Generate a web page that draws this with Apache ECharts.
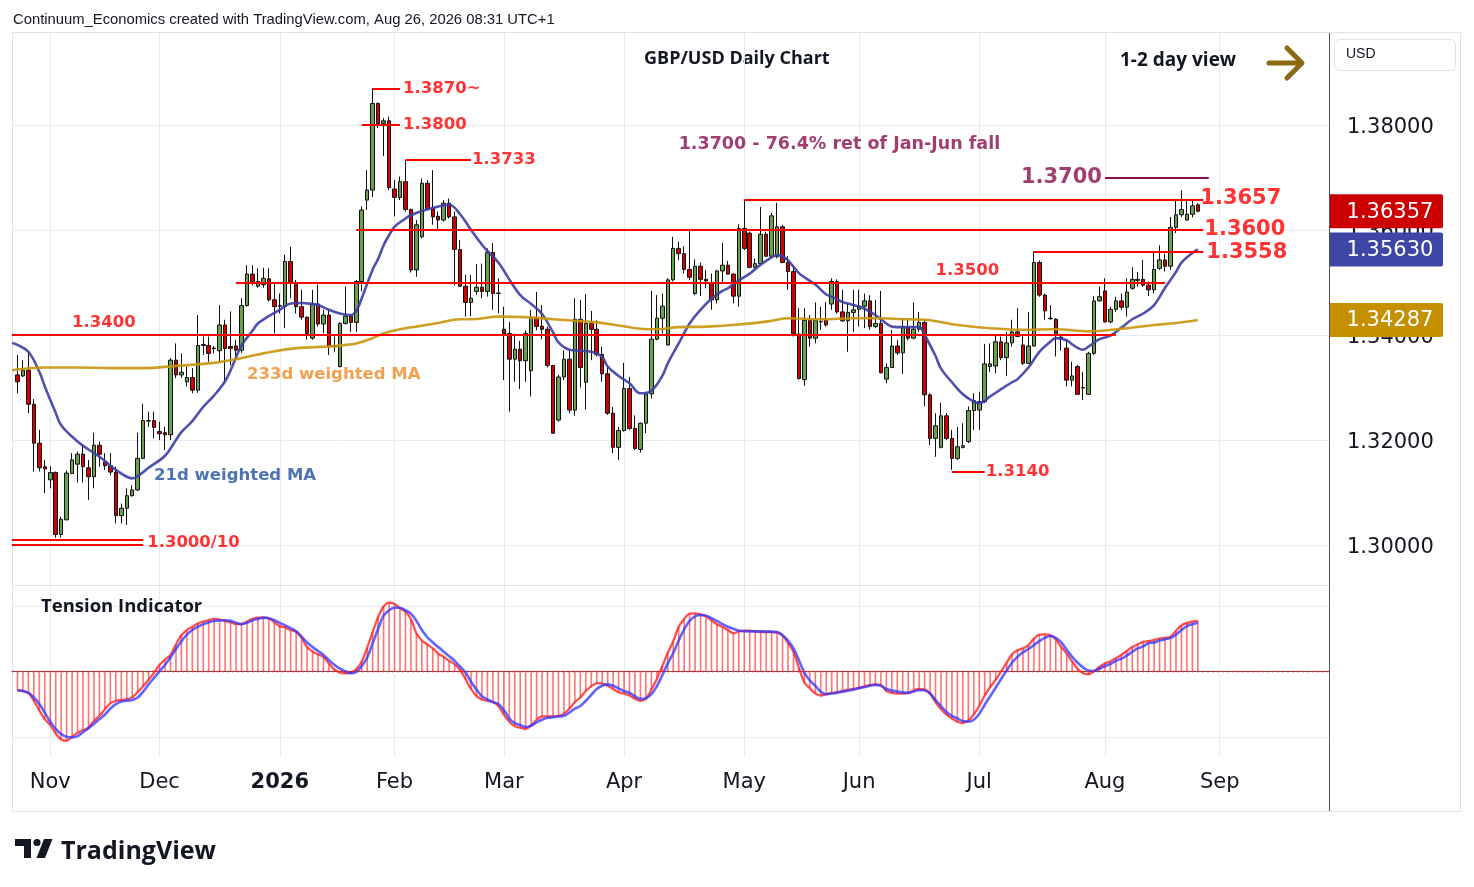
<!DOCTYPE html>
<html><head><meta charset="utf-8">
<script src="https://cdn.jsdelivr.net/npm/echarts@6/dist/echarts.min.js"></script>
<style>html,body{margin:0;padding:0;background:#fff}#c{width:1474px;height:887px}</style>
</head><body><div id="c"></div>
<script>
// ---------------- DATA ----------------
const holidays = ['2025-12-25', '2026-01-01'];
const monthLabels = {'01':'2026','02':'Feb','03':'Mar','04':'Apr','05':'May','06':'Jun','07':'Jul','08':'Aug','09':'Sep','10':'Oct','11':'Nov','12':'Dec'};
const priceTicks = [1.30, 1.32, 1.34, 1.36, 1.38];
// daily GBP/USD candles [open, high, low, close], first bar 2025-10-24, last 2026-08-26
const candles = [
[1.3324,1.3362,1.3289,1.3311],[1.3322,1.3352,1.3320,1.3333],[1.3333,1.3368,1.3251,1.3268],[1.3268,1.3278,1.3140,1.3194],[1.3194,1.3219,1.3140,1.3147],[1.3149,1.3162,1.3099,1.3145],
[1.3124,1.3150,1.3108,1.3138],[1.3138,1.3140,1.3014,1.3020],[1.3020,1.3054,1.3014,1.3049],[1.3048,1.3142,1.3047,1.3137],[1.3136,1.3175,1.3135,1.3162],
[1.3154,1.3178,1.3119,1.3173],[1.3173,1.3190,1.3119,1.3149],[1.3147,1.3162,1.3086,1.3130],[1.3130,1.3214,1.3108,1.3190],[1.3190,1.3197,1.3149,1.3173],
[1.3158,1.3175,1.3143,1.3151],[1.3151,1.3175,1.3133,1.3139],[1.3139,1.3149,1.3041,1.3056],[1.3056,1.3079,1.3041,1.3070],[1.3070,1.3108,1.3038,1.3094],
[1.3094,1.3114,1.3092,1.3105],[1.3105,1.3214,1.3103,1.3165],[1.3165,1.3269,1.3164,1.3237],[1.3237,1.3254,1.3225,1.3236],[1.3237,1.3254,1.3203,1.3224],
[1.3216,1.3235,1.3200,1.3212],[1.3214,1.3225,1.3181,1.3210],[1.3210,1.3356,1.3200,1.3352],[1.3352,1.3384,1.3318,1.3324],[1.3324,1.3365,1.3318,1.3329],
[1.3311,1.3340,1.3302,1.3319],[1.3319,1.3337,1.3289,1.3295],[1.3295,1.3438,1.3290,1.3380],[1.3380,1.3397,1.3362,1.3382],[1.3380,1.3397,1.3349,1.3365],
[1.3374,1.3379,1.3365,1.3375],[1.3370,1.3457,1.3349,1.3419],[1.3419,1.3429,1.3311,1.3374],[1.3378,1.3445,1.3342,1.3374],[1.3379,1.3391,1.3358,1.3371],
[1.3371,1.3470,1.3366,1.3456],[1.3456,1.3533,1.3454,1.3516],[1.3516,1.3533,1.3495,1.3500],[1.3493,1.3527,1.3490,1.3502],[1.3496,1.3528,1.3490,1.3508],
[1.3507,1.3527,1.3464,1.3467],[1.3467,1.3497,1.3403,1.3454],[1.3456,1.3479,1.3441,1.3455],[1.3454,1.3553,1.3413,1.3540],[1.3540,1.3568,1.3470,1.3500],
[1.3500,1.3505,1.3441,1.3454],[1.3454,1.3486,1.3429,1.3434],[1.3434,1.3435,1.3391,1.3403],[1.3394,1.3486,1.3391,1.3459],[1.3459,1.3496,1.3416,1.3421],
[1.3421,1.3448,1.3403,1.3438],[1.3438,1.3448,1.3362,1.3378],[1.3380,1.3397,1.3368,1.3378],[1.3340,1.3424,1.3338,1.3422],[1.3422,1.3492,1.3420,1.3436],
[1.3436,1.3438,1.3406,1.3424],[1.3424,1.3505,1.3406,1.3502],[1.3502,1.3645,1.3483,1.3638],[1.3657,1.3714,1.3638,1.3676],[1.3676,1.3870,1.3663,1.3841],
[1.3841,1.3843,1.3794,1.3803],[1.3803,1.3813,1.3741,1.3808],[1.3808,1.3816,1.3676,1.3681],[1.3678,1.3695,1.3626,1.3662],[1.3662,1.3702,1.3657,1.3692],
[1.3692,1.3733,1.3635,1.3639],[1.3639,1.3641,1.3519,1.3524],[1.3524,1.3619,1.3511,1.3610],[1.3587,1.3698,1.3584,1.3689],[1.3689,1.3695,1.3638,1.3641],
[1.3641,1.3714,1.3610,1.3625],[1.3626,1.3635,1.3600,1.3619],[1.3619,1.3657,1.3616,1.3651],[1.3651,1.3660,1.3622,1.3625],[1.3625,1.3635,1.3495,1.3563],
[1.3563,1.3581,1.3492,1.3493],[1.3493,1.3515,1.3435,1.3462],[1.3462,1.3514,1.3436,1.3470],[1.3483,1.3535,1.3476,1.3491],[1.3491,1.3536,1.3470,1.3483],
[1.3483,1.3565,1.3473,1.3557],[1.3557,1.3575,1.3448,1.3479],[1.3480,1.3508,1.3441,1.3479],[1.3411,1.3454,1.3314,1.3402],[1.3403,1.3425,1.3254,1.3354],
[1.3354,1.3403,1.3311,1.3373],[1.3373,1.3389,1.3297,1.3351],[1.3351,1.3409,1.3311,1.3403],[1.3332,1.3448,1.3283,1.3433],[1.3433,1.3482,1.3409,1.3416],
[1.3417,1.3457,1.3392,1.3411],[1.3411,1.3416,1.3338,1.3342],[1.3342,1.3343,1.3212,1.3213],[1.3238,1.3324,1.3235,1.3320],[1.3320,1.3371,1.3314,1.3354],
[1.3354,1.3371,1.3251,1.3257],[1.3257,1.3470,1.3246,1.3430],[1.3430,1.3467,1.3300,1.3338],[1.3310,1.3478,1.3258,1.3422],[1.3422,1.3446,1.3352,1.3411],
[1.3411,1.3428,1.3359,1.3363],[1.3363,1.3378,1.3311,1.3326],[1.3326,1.3340,1.3248,1.3251],[1.3251,1.3263,1.3175,1.3186],[1.3186,1.3225,1.3162,1.3218],
[1.3218,1.3347,1.3216,1.3298],[1.3298,1.3320,1.3219,1.3222],[1.3222,1.3247,1.3181,1.3184],[1.3182,1.3233,1.3176,1.3232],[1.3232,1.3289,1.3213,1.3288],
[1.3288,1.3484,1.3279,1.3392],[1.3392,1.3476,1.3390,1.3432],[1.3432,1.3479,1.3403,1.3455],[1.3381,1.3508,1.3380,1.3505],[1.3505,1.3587,1.3502,1.3565],
[1.3565,1.3578,1.3543,1.3555],[1.3555,1.3569,1.3517,1.3525],[1.3525,1.3599,1.3505,1.3510],[1.3479,1.3544,1.3476,1.3531],[1.3531,1.3538,1.3474,1.3506],
[1.3506,1.3524,1.3489,1.3503],[1.3499,1.3517,1.3448,1.3467],[1.3467,1.3524,1.3460,1.3522],[1.3522,1.3576,1.3500,1.3533],[1.3533,1.3541,1.3515,1.3516],
[1.3516,1.3517,1.3460,1.3474],[1.3474,1.3611,1.3454,1.3603],[1.3603,1.3657,1.3562,1.3565],[1.3594,1.3597,1.3527,1.3529],[1.3529,1.3546,1.3527,1.3536],
[1.3536,1.3644,1.3535,1.3592],[1.3592,1.3597,1.3549,1.3550],[1.3550,1.3633,1.3549,1.3627],[1.3549,1.3652,1.3546,1.3606],[1.3606,1.3610,1.3537,1.3538],
[1.3538,1.3550,1.3486,1.3521],[1.3521,1.3533,1.3397,1.3402],[1.3402,1.3451,1.3315,1.3317],[1.3315,1.3451,1.3303,1.3428],[1.3428,1.3438,1.3378,1.3394],
[1.3394,1.3462,1.3384,1.3428],[1.3425,1.3454,1.3410,1.3426],[1.3428,1.3463,1.3416,1.3419],[1.3459,1.3508,1.3448,1.3502],[1.3502,1.3506,1.3441,1.3444],
[1.3444,1.3486,1.3425,1.3427],[1.3427,1.3460,1.3368,1.3443],[1.3443,1.3486,1.3406,1.3448],[1.3449,1.3486,1.3416,1.3455],[1.3455,1.3479,1.3413,1.3465],
[1.3465,1.3476,1.3410,1.3416],[1.3416,1.3467,1.3413,1.3422],[1.3422,1.3484,1.3327,1.3328],[1.3316,1.3346,1.3308,1.3338],[1.3338,1.3410,1.3338,1.3379],
[1.3379,1.3390,1.3362,1.3366],[1.3366,1.3432,1.3326,1.3415],[1.3415,1.3429,1.3390,1.3394],[1.3394,1.3462,1.3392,1.3411],[1.3411,1.3444,1.3406,1.3424],
[1.3424,1.3429,1.3264,1.3286],[1.3286,1.3289,1.3190,1.3203],[1.3203,1.3251,1.3168,1.3227],[1.3186,1.3271,1.3184,1.3246],[1.3246,1.3251,1.3200,1.3203],
[1.3203,1.3219,1.3143,1.3165],[1.3165,1.3225,1.3162,1.3187],[1.3186,1.3232,1.3184,1.3189],[1.3197,1.3264,1.3194,1.3256],[1.3256,1.3289,1.3219,1.3275],
[1.3257,1.3292,1.3219,1.3273],[1.3273,1.3383,1.3270,1.3345],[1.3340,1.3384,1.3330,1.3345],[1.3341,1.3400,1.3327,1.3387],[1.3387,1.3397,1.3352,1.3357],
[1.3357,1.3406,1.3322,1.3385],[1.3385,1.3429,1.3378,1.3406],[1.3406,1.3451,1.3396,1.3397],[1.3381,1.3400,1.3343,1.3346],[1.3346,1.3444,1.3345,1.3379],
[1.3379,1.3559,1.3378,1.3538],[1.3538,1.3542,1.3473,1.3476],[1.3476,1.3479,1.3429,1.3446],[1.3432,1.3457,1.3429,1.3431],[1.3430,1.3432,1.3359,1.3401],
[1.3396,1.3400,1.3370,1.3394],[1.3375,1.3390,1.3302,1.3314],[1.3314,1.3349,1.3302,1.3322],[1.3340,1.3343,1.3286,1.3287],[1.3300,1.3330,1.3276,1.3299],
[1.3287,1.3368,1.3286,1.3365],[1.3365,1.3474,1.3362,1.3465],[1.3465,1.3492,1.3464,1.3473],[1.3484,1.3508,1.3424,1.3425],[1.3425,1.3454,1.3422,1.3449],
[1.3449,1.3473,1.3444,1.3465],[1.3465,1.3479,1.3448,1.3453],[1.3453,1.3508,1.3435,1.3482],[1.3489,1.3529,1.3486,1.3506],[1.3504,1.3520,1.3492,1.3506],
[1.3506,1.3543,1.3492,1.3495],[1.3495,1.3502,1.3474,1.3486],[1.3486,1.3559,1.3479,1.3525],[1.3527,1.3571,1.3524,1.3543],[1.3543,1.3555,1.3521,1.3531],
[1.3531,1.3625,1.3524,1.3605],[1.3605,1.3657,1.3594,1.3629],[1.3629,1.3676,1.3625,1.3639],[1.3619,1.3656,1.3618,1.3630],[1.3630,1.3656,1.3624,1.3646],
[1.3648,1.3651,1.3634,1.36357]
];
// bar index below: 0 = 2025-11-03 (first bar of Nov)
const ma21 = [[-7,1.3385],[-6,1.3381],[-4,1.3368],[-2,1.3330],[-1,1.3302],[1,1.3252],[2,1.3228],[5,1.3197],[7,1.3182],[9,1.3168],[10,1.3160],[12,1.3143],[14,1.3130],[15,1.3127],[16,1.3131],[18,1.3147],[21,1.3170],[23,1.3200],[24,1.3215],[26,1.3236],[28,1.3263],[30,1.3285],[32,1.3312],[33,1.3333],[35,1.3380],[37,1.3408],[38,1.3422],[40,1.3436],[42,1.3448],[44,1.3460],[46,1.3461],[48,1.3459],[49,1.3457],[51,1.3448],[53,1.3441],[55,1.3438],[56,1.3446],[57,1.3470],[59,1.3525],[60,1.3545],[61,1.3571],[62,1.3590],[63,1.3606],[65,1.3622],[66,1.3628],[68,1.3636],[70,1.3642],[72,1.3647],[73,1.3648],[75,1.3630],[77,1.3600],[79,1.3572],[80,1.3560],[82,1.3538],[84,1.3506],[86,1.3476],[88,1.3459],[90,1.3440],[92,1.3405],[93,1.3386],[95,1.3372],[97,1.3370],[99,1.3368],[101,1.3358],[102,1.3340],[104,1.3322],[106,1.3308],[108,1.3289],[110,1.3294],[112,1.3322],[113,1.3346],[115,1.3384],[117,1.3422],[119,1.3448],[121,1.3469],[123,1.3484],[124,1.3489],[126,1.3504],[128,1.3517],[130,1.3534],[132,1.3548],[133,1.3552],[134,1.3550],[135,1.3542],[137,1.3518],[138,1.3510],[140,1.3496],[142,1.3477],[143,1.3473],[145,1.3463],[147,1.3457],[149,1.3450],[151,1.3438],[153,1.3422],[154,1.3416],[156,1.3415],[158,1.3415],[159,1.3415],[160,1.3400],[162,1.3360],[163,1.3336],[165,1.3310],[167,1.3287],[169,1.3273],[170,1.3270],[172,1.3283],[174,1.3297],[176,1.3310],[177,1.3316],[179,1.3338],[181,1.3368],[183,1.3387],[184,1.3394],[186,1.3390],[187,1.3382],[189,1.3372],[190,1.3378],[192,1.3392],[194,1.3399],[196,1.3414],[198,1.3430],[200,1.3441],[202,1.3457],[204,1.3490],[206,1.3520],[207,1.3538],[209,1.3556],[210,1.3563]];
const ma233 = [[-7,1.3333],[-1,1.3338],[5,1.3338],[11,1.3337],[17,1.3337],[23,1.3341],[29,1.3346],[33,1.3352],[35,1.3356],[39,1.3365],[45,1.3375],[51,1.3378],[54,1.3381],[56,1.3384],[59,1.3394],[61,1.3403],[65,1.3413],[67,1.3416],[71,1.3423],[75,1.3430],[77,1.3430],[82,1.3435],[87,1.3434],[92,1.3430],[96,1.3427],[100,1.3424],[104,1.3418],[108,1.3412],[111,1.3411],[115,1.3415],[120,1.3416],[126,1.3420],[132,1.3427],[135,1.3432],[141,1.3430],[147,1.3432],[152,1.3432],[156,1.3430],[160,1.3429],[166,1.3419],[172,1.3413],[178,1.3410],[184,1.3411],[190,1.3407],[196,1.3412],[202,1.3419],[206,1.3423],[210,1.34287]];
// tension indicator, one value per bar from 2025-10-24
const tension = [-0.29,-0.30,-0.33,-0.45,-0.60,-0.73,
-0.82,-0.95,-1.04,-1.06,-1.00,-0.94,-0.90,-0.86,-0.76,-0.68,
-0.58,-0.49,-0.45,-0.44,-0.43,-0.40,-0.32,-0.23,-0.13,-0.02,
0.10,0.18,0.25,0.41,0.55,0.63,0.68,0.73,0.76,0.78,
0.80,0.79,0.77,0.75,0.72,0.72,0.76,0.80,0.82,0.82,
0.81,0.75,0.69,0.67,0.63,0.60,0.51,0.37,0.30,0.26,
0.22,0.12,0.03,-0.02,-0.03,-0.02,0.03,0.15,0.36,0.60,
0.83,0.99,1.05,1.03,0.96,0.91,0.80,0.58,0.47,0.41,
0.35,0.27,0.22,0.16,0.11,0.02,-0.12,-0.27,-0.38,-0.43,
-0.45,-0.47,-0.53,-0.66,-0.77,-0.84,-0.86,-0.88,-0.83,-0.74,
-0.69,-0.69,-0.69,-0.68,-0.65,-0.57,-0.47,-0.40,-0.30,-0.23,
-0.18,-0.19,-0.22,-0.27,-0.32,-0.34,-0.37,-0.42,-0.45,-0.42,
-0.28,-0.12,0.08,0.28,0.46,0.68,0.80,0.88,0.885,0.87,
0.84,0.78,0.72,0.68,0.63,0.58,0.61,0.62,0.62,0.61,
0.60,0.60,0.60,0.59,0.55,0.43,0.30,0.05,-0.17,-0.26,
-0.34,-0.37,-0.35,-0.33,-0.32,-0.30,-0.28,-0.27,-0.25,-0.23,
-0.21,-0.20,-0.21,-0.30,-0.33,-0.34,-0.34,-0.33,-0.29,-0.27,
-0.28,-0.34,-0.47,-0.58,-0.66,-0.72,-0.77,-0.79,-0.75,-0.66,
-0.53,-0.37,-0.24,-0.13,0.00,0.13,0.26,0.32,0.35,0.40,
0.50,0.56,0.565,0.555,0.49,0.37,0.27,0.15,0.04,-0.03,
-0.045,0.00,0.07,0.12,0.15,0.20,0.25,0.31,0.37,0.41,
0.45,0.46,0.48,0.50,0.51,0.53,0.62,0.70,0.74,0.76,0.77];
const signal = [[-6,-0.29],[-4,-0.33],[-3,-0.40],[-2,-0.50],[-1,-0.63],[0,-0.77],[1,-0.88],[2,-0.96],[3,-1.00],[4,-1.01],[5,-0.99],[6,-0.93],[7,-0.87],[8,-0.80],[9,-0.73],[10,-0.66],[11,-0.57],[12,-0.50],[13,-0.46],[14,-0.45],[15,-0.44],[16,-0.40],[17,-0.31],[18,-0.20],[19,-0.10],[20,0.00],[21,0.10],[22,0.21],[23,0.34],[24,0.46],[25,0.56],[26,0.63],[27,0.68],[28,0.72],[29,0.75],[30,0.77],[32,0.78],[33,0.77],[34,0.74],[35,0.72],[36,0.74],[37,0.78],[38,0.80],[39,0.82],[40,0.81],[41,0.78],[42,0.74],[43,0.70],[44,0.66],[45,0.61],[46,0.53],[47,0.44],[48,0.37],[49,0.31],[50,0.25],[51,0.17],[52,0.10],[53,0.04],[54,0.00],[55,-0.03],[56,-0.01],[57,0.08],[58,0.21],[59,0.43],[60,0.65],[61,0.85],[62,0.93],[63,0.97],[64,0.97],[65,0.93],[66,0.88],[67,0.77],[68,0.63],[69,0.52],[70,0.44],[71,0.37],[72,0.30],[73,0.23],[74,0.16],[75,0.07],[76,-0.02],[77,-0.16],[78,-0.28],[79,-0.38],[80,-0.43],[81,-0.47],[82,-0.50],[83,-0.59],[84,-0.72],[85,-0.79],[86,-0.82],[87,-0.85],[88,-0.83],[89,-0.78],[90,-0.74],[91,-0.71],[92,-0.70],[93,-0.69],[94,-0.68],[95,-0.63],[96,-0.57],[97,-0.53],[98,-0.45],[99,-0.36],[100,-0.27],[101,-0.22],[102,-0.20],[103,-0.22],[104,-0.26],[105,-0.30],[106,-0.33],[107,-0.38],[108,-0.42],[109,-0.41],[110,-0.35],[111,-0.23],[112,-0.06],[113,0.12],[114,0.28],[115,0.47],[116,0.64],[117,0.77],[118,0.84],[119,0.86],[120,0.85],[121,0.81],[122,0.77],[123,0.72],[124,0.68],[125,0.65],[126,0.62],[128,0.61],[130,0.61],[133,0.60],[134,0.55],[135,0.47],[136,0.35],[137,0.17],[138,-0.02],[139,-0.14],[140,-0.22],[141,-0.31],[142,-0.35],[143,-0.34],[145,-0.31],[147,-0.28],[149,-0.24],[151,-0.21],[152,-0.22],[153,-0.27],[155,-0.31],[157,-0.33],[159,-0.29],[160,-0.29],[161,-0.34],[162,-0.44],[163,-0.53],[164,-0.62],[165,-0.68],[166,-0.72],[167,-0.76],[168,-0.77],[169,-0.74],[170,-0.65],[171,-0.51],[172,-0.38],[173,-0.25],[174,-0.12],[175,0.01],[176,0.13],[177,0.22],[178,0.29],[179,0.34],[180,0.40],[181,0.46],[182,0.51],[183,0.54],[184,0.51],[185,0.44],[186,0.33],[187,0.22],[188,0.13],[189,0.06],[190,0.01],[191,0.005],[192,0.04],[193,0.08],[194,0.11],[195,0.16],[196,0.19],[197,0.24],[198,0.30],[199,0.35],[200,0.38],[201,0.43],[202,0.44],[203,0.47],[204,0.49],[205,0.51],[206,0.56],[207,0.63],[208,0.69],[209,0.72],[210,0.74]];
// horizontal levels: [price, from bar, to bar]
const redLevels = [[1.3870,59,64],[1.3800,57,64],[1.3733,65,77],[1.3657,127,211],[1.3600,56,211],[1.3558,180,211],[1.3500,34,204],[1.3400,-7,195],[1.3140,165,171],[1.3010,-7,17],[1.3000,-7,17]];
const maroonLevels = [[1.3700,193,212]];
// last values shown as tags on the price scale
const lastTags = [[1.36357,'#cc0000'],[1.35630,'#3d45a5'],[1.34287,'#c49000']];

// ---------------- BUILD ----------------
const OFF = 7; // category index of bar 0
const cats = (function(){const out=[];const d=new Date(Date.UTC(2025,9,23));
  while(out.length<242){const wd=d.getUTCDay();const s=d.toISOString().slice(0,10);
    if(wd!==0&&wd!==6&&holidays.indexOf(s)<0) out.push(s); d.setUTCDate(d.getUTCDate()+1);} return out;})();
const monthStart = new Set();
for(let i=1;i<cats.length;i++){ if(cats[i].slice(5,7)!==cats[i-1].slice(5,7)) monthStart.add(i); }
const isMonth = (i)=>monthStart.has(i);

const candleData = candles.map((c,i)=>[i+1, c[0], c[3], c[2], c[1]]);
const pts = arr => arr.map(p=>[p[0]+OFF, p[1]]);

const DV = 'DejaVu Sans';
function lvl(arr, color){ return arr.map(l=>[{coord:[l[1]+OFF,l[0]], lineStyle:{color:color,width:2,type:'solid'}},{coord:[l[2]+OFF,l[0]]}]); }
function ann(text, bar, price, opts){ return {value:[bar+OFF, price], label:Object.assign({show:true, formatter:text, position:'right', distance:0, fontFamily:DV, fontWeight:'bold', color:'#ff0000', fontSize:16.5}, opts||{})}; }

const annotations = [
  ann('1.3870~', 64, 1.3870, {distance:3}),
  ann('1.3800', 64, 1.3800, {distance:3}),
  ann('1.3733', 77, 1.3733, {distance:1}),
  ann('1.3700', 193, 1.3700, {position:'left', distance:3, color:'#880e4f', fontSize:21}),
  ann('1.3657', 211, 1.3657, {fontSize:21, offset:[-3,-2]}),
  ann('1.3600', 211, 1.3600, {fontSize:21, offset:[1,0]}),
  ann('1.3558', 211, 1.3558, {fontSize:21, offset:[3,0]}),
  ann('1.3500', 162, 1.3500, {offset:[0,-12]}),
  ann('1.3400', 4, 1.3400, {offset:[0,-12]}),
  ann('1.3140', 171, 1.3140, {distance:1}),
  ann('1.3000/10', 17, 1.3005, {distance:4}),
  ann('1.3700 - 76.4% ret of Jan-Jun fall', 115, 1.3762, {color:'#880e4f', fontSize:17.5}),
  ann('233d weighted MA', 36, 1.33238, {color:'#ef8a22', fontSize:16.5}),
  ann('21d weighted MA', 19, 1.31314, {color:'#23509f', fontSize:16.5})
];

const gridColor = '#e6ebf1';
const baseGraphic = [
    {type:'rect', shape:{x:12.5, y:32.5, width:1448, height:779}, style:{fill:'none', stroke:'#e0e3eb', lineWidth:1}, silent:true, z:0},
    {type:'line', shape:{x1:1329.5, y1:33, x2:1329.5, y2:811}, style:{stroke:'#50535e', lineWidth:1}, z:10},
    {type:'line', shape:{x1:12, y1:585.5, x2:1329, y2:585.5}, style:{stroke:'#e0e3eb', lineWidth:1}, z:10},
    {type:'text', left:13, top:12, style:{text:'Continuum_Economics created with TradingView.com, Aug 26, 2026 08:31 UTC+1', fontFamily:'Liberation Sans', fontSize:14.8, fill:'#131722'}},
    {type:'text', left:644, top:50, style:{text:'GBP/USD Daily Chart', fontFamily:'Open Sans', fontWeight:'bold', fontSize:18, fill:'#131722'}},
    {type:'text', left:1120, top:51, style:{text:'1-2 day view', fontFamily:'Open Sans', fontWeight:'bold', fontSize:19, fill:'#131722'}},
    {type:'polyline', shape:{points:[[1269,63],[1301,63]]}, style:{stroke:'#8a6a12', lineWidth:5, lineCap:'round'}, z:10},
    {type:'polyline', shape:{points:[[1287,48],[1302,63],[1287,78]]}, style:{stroke:'#8a6a12', lineWidth:5, lineCap:'round', lineJoin:'round', fill:'none'}, z:10},
    {type:'rect', shape:{x:1334.5, y:39.5, width:121, height:31, r:5}, style:{fill:'#fff', stroke:'#e0e3eb', lineWidth:1}, z:10},
    {type:'text', left:1346, top:47, style:{text:'USD', fontFamily:'Liberation Sans', fontSize:14, fill:'#131722'}, z:11},
    {type:'text', left:41, top:597, style:{text:'Tension Indicator', fontFamily:'Open Sans', fontWeight:'bold', fontSize:18.5, fill:'#131722'}, z:10},
    {type:'polygon', shape:{points:[[15,839],[31,839],[31,858],[24,858],[24,846],[15,846]]}, style:{fill:'#131722'}, z:10},
    {type:'circle', shape:{cx:37, cy:842.5, r:3.6}, style:{fill:'#131722'}, z:10},
    {type:'polygon', shape:{points:[[44,839],[52.5,839],[45,858],[36.5,858]]}, style:{fill:'#131722'}, z:10},
    {type:'text', left:61, top:839, style:{text:'TradingView', fontFamily:'Open Sans', fontWeight:'bold', fontSize:25, fill:'#131722'}, z:10}
];

const chart = echarts.init(document.getElementById('c'), null, {renderer:'canvas'});
const option = {
  animation:false, backgroundColor:'#ffffff',
  grid:[{left:12, right:145, top:33, height:552},{left:12, right:145, top:585, height:172}],
  xAxis:[
    {type:'category', gridIndex:0, data:cats, boundaryGap:false, axisLine:{show:false}, axisTick:{show:false}, axisLabel:{show:false},
     splitLine:{show:true, interval:isMonth, lineStyle:{color:gridColor, width:1}}},
    {type:'category', gridIndex:1, data:cats, boundaryGap:false, axisLine:{show:true, lineStyle:{color:'#50535e', width:1}}, axisTick:{show:false},
     axisLabel:{interval:isMonth, margin:15, fontFamily:DV, fontSize:21, color:'#131722',
       formatter:(v)=>{const m=v.slice(5,7); return m==='01' ? '{b|'+monthLabels[m]+'}' : monthLabels[m];},
       rich:{b:{fontFamily:DV, fontSize:21, fontWeight:'bold', color:'#131722'}}},
     splitLine:{show:true, interval:isMonth, lineStyle:{color:gridColor, width:1}}}
  ],
  yAxis:[
    {type:'value', gridIndex:0, position:'right', min:1.292381, max:1.397524, scale:true,
     axisLine:{show:false}, axisTick:{show:false, customValues:priceTicks},
     axisLabel:{customValues:priceTicks, formatter:(v)=>'{p|'+v.toFixed(5)+'}', margin:18,
       rich:{p:{fontFamily:DV, fontSize:21, color:'#131722', padding:[6,0,0,0]}}},
     splitLine:{show:true, lineStyle:{color:gridColor, width:1}}},
    {type:'value', gridIndex:1, position:'right', min:-1.3084, max:1.3176,
     axisLine:{show:false}, axisTick:{show:false, customValues:[-1,1]}, axisLabel:{show:false, customValues:[-1,1]},
     splitLine:{show:true, lineStyle:{color:gridColor, width:1}}}
  ],
  series:[
    {type:'bar', name:'tensionHist', xAxisIndex:1, yAxisIndex:1, data:tension.map((v,i)=>[i+1,v]), barWidth:1.6,
     itemStyle:{color:'rgba(255,30,30,0.62)'}, silent:true, z:2,
     markLine:{silent:true, symbol:['none','none'], label:{show:false}, data:[{yAxis:0}], lineStyle:{color:'#ff2020', type:[2,3], width:1.3}}},
    {type:'line', name:'tension', xAxisIndex:1, yAxisIndex:1, data:tension.map((v,i)=>[i+1,v]), smooth:0.3, showSymbol:false,
     lineStyle:{color:'rgba(255,30,30,0.78)', width:2.3}, z:3},
    {type:'line', name:'signal', xAxisIndex:1, yAxisIndex:1, data:pts(signal), smooth:0.4, showSymbol:false,
     lineStyle:{color:'rgba(55,55,255,0.78)', width:2.6}, z:4},
    {type:'candlestick', name:'GBPUSD', xAxisIndex:0, yAxisIndex:0, data:candleData, encode:{x:0, y:[1,2,3,4]}, barWidth:4,
     itemStyle:{color:'#68a14a', color0:'#d10000', borderColor:'#111', borderColor0:'#111', borderWidth:1}, z:3,
     markLine:{silent:true, symbol:['none','none'], label:{show:false}, animation:false,
       data:lvl(redLevels,'#ff0000').concat(lvl(maroonLevels,'#880e4f'))}},
    {type:'line', name:'21d WMA', xAxisIndex:0, yAxisIndex:0, data:pts(ma21), smooth:0.4, showSymbol:false,
     lineStyle:{color:'#3c3ea3', width:2.6, opacity:0.9}, z:4},
    {type:'line', name:'233d WMA', xAxisIndex:0, yAxisIndex:0, data:pts(ma233), smooth:0.4, showSymbol:false,
     lineStyle:{color:'#c8960c', width:2.6, opacity:0.9}, z:4},
    {type:'scatter', name:'notes', xAxisIndex:0, yAxisIndex:0, symbolSize:0, data:annotations, z:6, silent:true}
  ],
  graphic: baseGraphic
};
chart.setOption(option);

// price-scale tags placed with the chart's own y scale
const tagGraphic = [];
lastTags.forEach(t=>{
  const y = chart.convertToPixel({yAxisIndex:0}, t[0]);
  tagGraphic.push({type:'rect', shape:{x:1330, y:y-17, width:113, height:34, r:[0,2,2,0]}, style:{fill:t[1]}, z:20});
  tagGraphic.push({type:'text', x:1390, y:y+1, style:{text:t[0].toFixed(5), fontFamily:DV, fontSize:21, fill:'#ffffff', align:'center', verticalAlign:'middle'}, z:21});
});
chart.setOption({graphic: baseGraphic.concat(tagGraphic)});
</script></body></html>
